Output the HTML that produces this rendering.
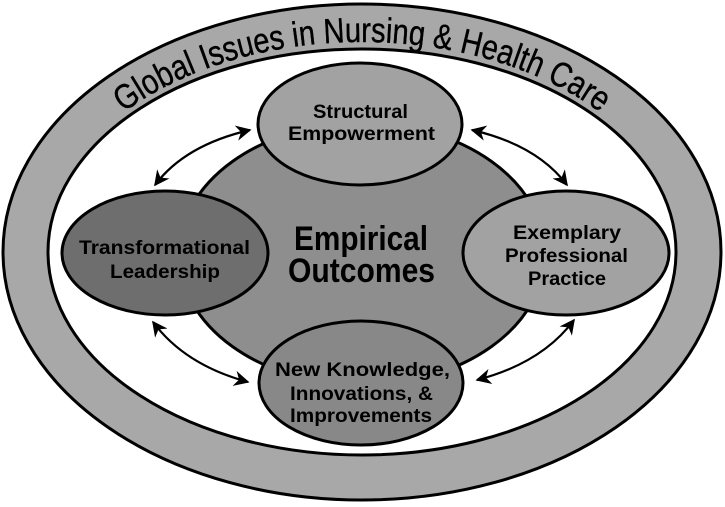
<!DOCTYPE html>
<html><head><meta charset="utf-8"><style>html,body{margin:0;padding:0;background:#fff}svg{display:block}</style></head>
<body>
<svg width="725" height="507" viewBox="0 0 725 507" xmlns="http://www.w3.org/2000/svg" font-family="Liberation Sans, sans-serif">
<defs>
<marker id="ah" viewBox="0 0 10 10" refX="9" refY="5" markerWidth="7" markerHeight="7" orient="auto-start-reverse"><path d="M0,0 L10,5 L0,10 L3,5 z" fill="#000"/></marker>
<path id="arc" d="M 42,254 A 320,212 0 0 1 682,254"/>
</defs>
<ellipse cx="362" cy="252" rx="359" ry="248" fill="#a8a8a8" stroke="#000" stroke-width="3"/>
<ellipse cx="362" cy="252" rx="314" ry="203" fill="#fff" stroke="#000" stroke-width="3"/>
<text font-size="35" fill="#000" stroke="#000" stroke-width="0.4"><textPath href="#arc" startOffset="50%" text-anchor="middle" textLength="505" lengthAdjust="spacingAndGlyphs">Global Issues in Nursing &amp; Health Care</textPath></text>
<ellipse cx="362" cy="254" rx="183" ry="131" fill="#8e8e8e" stroke="#000" stroke-width="3"/>
<g fill="none" stroke="#000" stroke-width="2.2" marker-start="url(#ah)" marker-end="url(#ah)">
<path d="M250,130 Q185,145 155,185"/>
<path d="M472,130 Q537,145 567,185"/>
<path d="M153,322 Q185,365 248,382"/>
<path d="M574,320 Q542,363 477,380"/>
</g>
<ellipse cx="360" cy="124" rx="102" ry="61" fill="#a2a2a2" stroke="#000" stroke-width="3"/>
<ellipse cx="165" cy="253" rx="103" ry="62" fill="#6e6e6e" stroke="#000" stroke-width="3"/>
<ellipse cx="566" cy="253" rx="103" ry="62" fill="#a2a2a2" stroke="#000" stroke-width="3"/>
<ellipse cx="361" cy="383" rx="102" ry="62" fill="#888" stroke="#000" stroke-width="3"/>
<g font-weight="bold" fill="#000">
<text x="313" y="118" font-size="19" textLength="95" lengthAdjust="spacingAndGlyphs">Structural</text>
<text x="288" y="140" font-size="19" textLength="147" lengthAdjust="spacingAndGlyphs">Empowerment</text>
<text x="79" y="254" font-size="19" textLength="171" lengthAdjust="spacingAndGlyphs">Transformational</text>
<text x="110" y="278" font-size="19" textLength="110" lengthAdjust="spacingAndGlyphs">Leadership</text>
<text x="513" y="239" font-size="19" textLength="108" lengthAdjust="spacingAndGlyphs">Exemplary</text>
<text x="505" y="262" font-size="19" textLength="123" lengthAdjust="spacingAndGlyphs">Professional</text>
<text x="528" y="285" font-size="19" textLength="78" lengthAdjust="spacingAndGlyphs">Practice</text>
<text x="275" y="376" font-size="19" textLength="175" lengthAdjust="spacingAndGlyphs">New Knowledge,</text>
<text x="290" y="400" font-size="19" textLength="143" lengthAdjust="spacingAndGlyphs">Innovations, &amp;</text>
<text x="290" y="422" font-size="19" textLength="142" lengthAdjust="spacingAndGlyphs">Improvements</text>
<text x="294" y="250" font-size="34" textLength="134" lengthAdjust="spacingAndGlyphs">Empirical</text>
<text x="288" y="282" font-size="34" textLength="147" lengthAdjust="spacingAndGlyphs">Outcomes</text>
</g>
</svg>
</body></html>
